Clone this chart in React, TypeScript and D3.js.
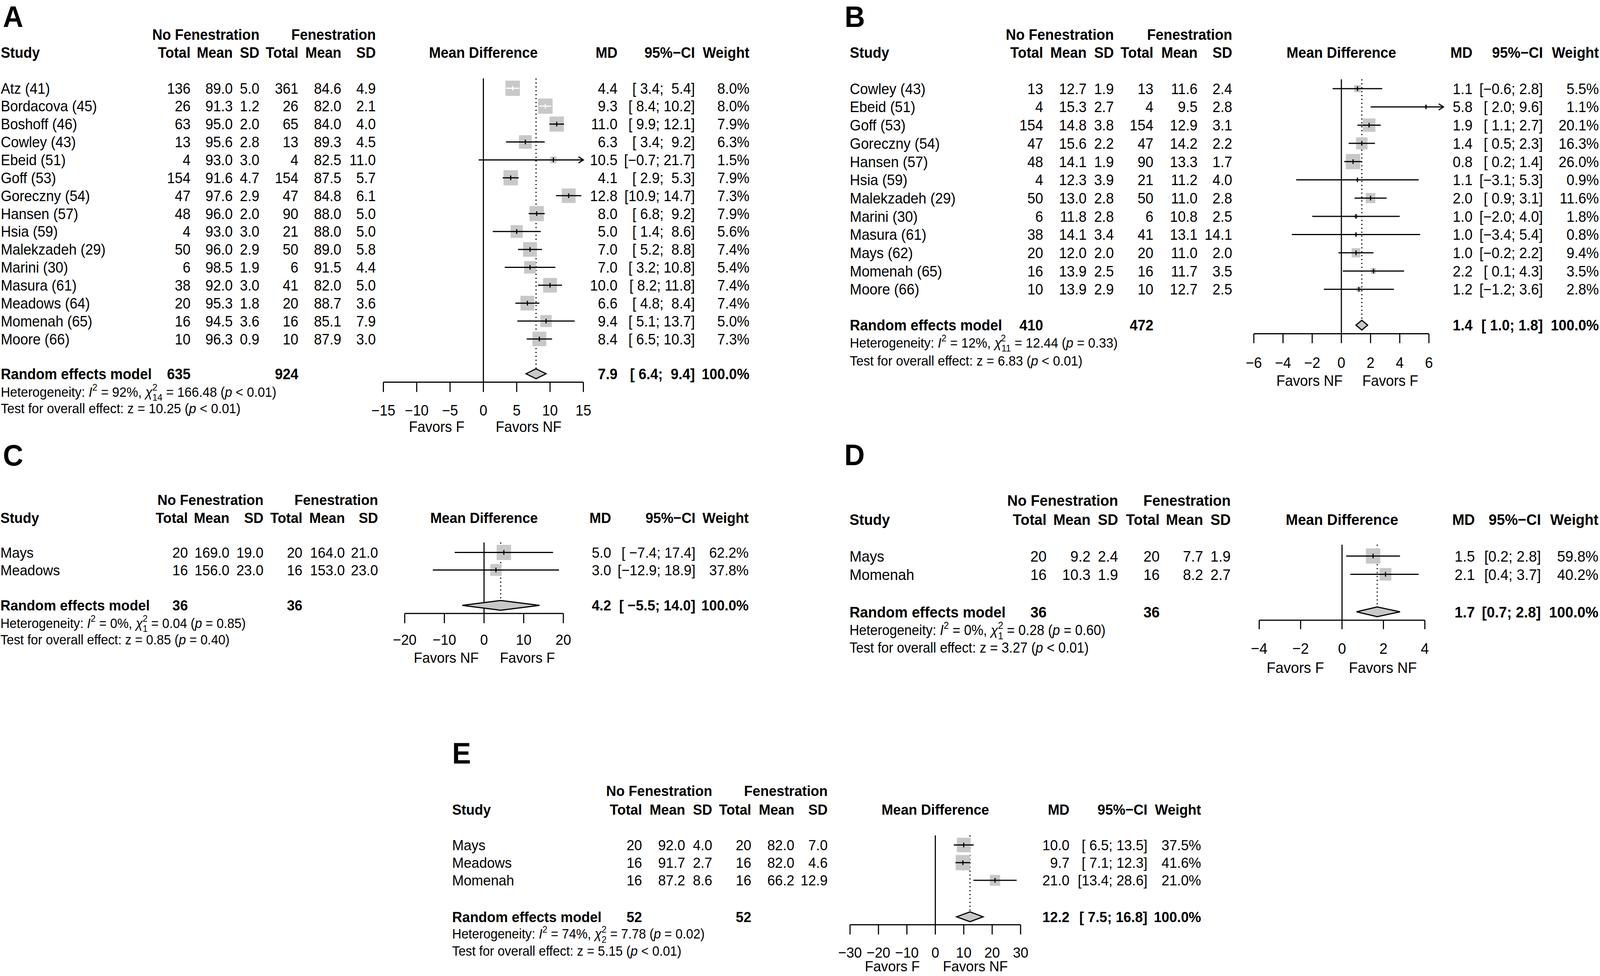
import React from "react";
import * as d3 from "d3";

const FONT = '"Liberation Sans", Arial, Helvetica, sans-serif';
const BOX_FILL = "#c8c8c8";
const MAX_BOX = 39;

// ---------- Panel A ----------
const aStudies = ["Atz (41)", "Bordacova (45)", "Boshoff (46)", "Cowley (43)", "Ebeid (51)", "Goff (53)", "Goreczny (54)", "Hansen (57)", "Hsia (59)", "Malekzadeh (29)", "Marini (30)", "Masura (61)", "Meadows (64)", "Momenah (65)", "Moore (66)"];
const aNoFen = [[136, 89.0, 5.0], [26, 91.3, 1.2], [63, 95.0, 2.0], [13, 95.6, 2.8], [4, 93.0, 3.0], [154, 91.6, 4.7], [47, 97.6, 2.9], [48, 96.0, 2.0], [4, 93.0, 3.0], [50, 96.0, 2.9], [6, 98.5, 1.9], [38, 92.0, 3.0], [20, 95.3, 1.8], [16, 94.5, 3.6], [10, 96.3, 0.9]];
const aFen = [[361, 84.6, 4.9], [26, 82.0, 2.1], [65, 84.0, 4.0], [13, 89.3, 4.5], [4, 82.5, 11.0], [154, 87.5, 5.7], [47, 84.8, 6.1], [90, 88.0, 5.0], [21, 88.0, 5.0], [50, 89.0, 5.8], [6, 91.5, 4.4], [41, 82.0, 5.0], [20, 88.7, 3.6], [16, 85.1, 7.9], [10, 87.9, 3.0]];
const aMD = [4.4, 9.3, 11.0, 6.3, 10.5, 4.1, 12.8, 8.0, 5.0, 7.0, 7.0, 10.0, 6.6, 9.4, 8.4];
const aLower = [3.4, 8.4, 9.9, 3.4, -0.7, 2.9, 10.9, 6.8, 1.4, 5.2, 3.2, 8.2, 4.8, 5.1, 6.5];
const aUpper = [5.4, 10.2, 12.1, 9.2, 21.7, 5.3, 14.7, 9.2, 8.6, 8.8, 10.8, 11.8, 8.4, 13.7, 10.3];
const aWeight = [8.0, 8.0, 7.9, 6.3, 1.5, 7.9, 7.3, 7.9, 5.6, 7.4, 5.4, 7.4, 7.4, 5.0, 7.3];
const aTotals = [635, 924];
const aPooled = [7.9, 6.4, 9.4];
const aHet = ["92%", "14", "166.48", "< 0.01"];
const aTest = ["10.25", "< 0.01"];
const aTicks = [-15, -10, -5, 0, 5, 10, 15];
const aFavors = ["Favors F", "Favors NF"];

// ---------- Panel B ----------
const bStudies = ["Cowley (43)", "Ebeid (51)", "Goff (53)", "Goreczny (54)", "Hansen (57)", "Hsia (59)", "Malekzadeh (29)", "Marini (30)", "Masura (61)", "Mays (62)", "Momenah (65)", "Moore (66)"];
const bNoFen = [[13, 12.7, 1.9], [4, 15.3, 2.7], [154, 14.8, 3.8], [47, 15.6, 2.2], [48, 14.1, 1.9], [4, 12.3, 3.9], [50, 13.0, 2.8], [6, 11.8, 2.8], [38, 14.1, 3.4], [20, 12.0, 2.0], [16, 13.9, 2.5], [10, 13.9, 2.9]];
const bFen = [[13, 11.6, 2.4], [4, 9.5, 2.8], [154, 12.9, 3.1], [47, 14.2, 2.2], [90, 13.3, 1.7], [21, 11.2, 4.0], [50, 11.0, 2.8], [6, 10.8, 2.5], [41, 13.1, 14.1], [20, 11.0, 2.0], [16, 11.7, 3.5], [10, 12.7, 2.5]];
const bMD = [1.1, 5.8, 1.9, 1.4, 0.8, 1.1, 2.0, 1.0, 1.0, 1.0, 2.2, 1.2];
const bLower = [-0.6, 2.0, 1.1, 0.5, 0.2, -3.1, 0.9, -2.0, -3.4, -0.2, 0.1, -1.2];
const bUpper = [2.8, 9.6, 2.7, 2.3, 1.4, 5.3, 3.1, 4.0, 5.4, 2.2, 4.3, 3.6];
const bWeight = [5.5, 1.1, 20.1, 16.3, 26.0, 0.9, 11.6, 1.8, 0.8, 9.4, 3.5, 2.8];
const bTotals = [410, 472];
const bPooled = [1.4, 1.0, 1.8];
const bHet = ["12%", "11", "12.44", "= 0.33"];
const bTest = ["6.83", "< 0.01"];
const bTicks = [-6, -4, -2, 0, 2, 4, 6];
const bFavors = ["Favors NF", "Favors F"];

// ---------- Panel C ----------
const cStudies = ["Mays", "Meadows"];
const cNoFen = [[20, 169.0, 19.0], [16, 156.0, 23.0]];
const cFen = [[20, 164.0, 21.0], [16, 153.0, 23.0]];
const cMD = [5.0, 3.0];
const cLower = [-7.4, -12.9];
const cUpper = [17.4, 18.9];
const cWeight = [62.2, 37.8];
const cTotals = [36, 36];
const cPooled = [4.2, -5.5, 14.0];
const cHet = ["0%", "1", "0.04", "= 0.85"];
const cTest = ["0.85", "= 0.40"];
const cTicks = [-20, -10, 0, 10, 20];
const cFavors = ["Favors NF", "Favors F"];

// ---------- Panel D ----------
const dStudies = ["Mays", "Momenah"];
const dNoFen = [[20, 9.2, 2.4], [16, 10.3, 1.9]];
const dFen = [[20, 7.7, 1.9], [16, 8.2, 2.7]];
const dMD = [1.5, 2.1];
const dLower = [0.2, 0.4];
const dUpper = [2.8, 3.7];
const dWeight = [59.8, 40.2];
const dTotals = [36, 36];
const dPooled = [1.7, 0.7, 2.8];
const dHet = ["0%", "1", "0.28", "= 0.60"];
const dTest = ["3.27", "< 0.01"];
const dTicks = [-4, -2, 0, 2, 4];
const dFavors = ["Favors F", "Favors NF"];

// ---------- Panel E ----------
const eStudies = ["Mays", "Meadows", "Momenah"];
const eNoFen = [[20, 92.0, 4.0], [16, 91.7, 2.7], [16, 87.2, 8.6]];
const eFen = [[20, 82.0, 7.0], [16, 82.0, 4.6], [16, 66.2, 12.9]];
const eMD = [10.0, 9.7, 21.0];
const eLower = [6.5, 7.1, 13.4];
const eUpper = [13.5, 12.3, 28.6];
const eWeight = [37.5, 41.6, 21.0];
const eTotals = [52, 52];
const ePooled = [12.2, 7.5, 16.8];
const eHet = ["74%", "2", "7.78", "= 0.02"];
const eTest = ["5.15", "< 0.01"];
const eTicks = [-30, -20, -10, 0, 10, 20, 30];
const eFavors = ["Favors F", "Favors NF"];

interface PanelData {
  studies: string[]; noFen: number[][]; fen: number[][];
  md: number[]; lower: number[]; upper: number[]; weight: number[];
  totals: number[]; pooled: number[]; het: string[]; test: string[];
  ticks: number[]; favors: string[];
}

interface Layout {
  letter: string; letterX: number; letterY: number;
  fs: number; fsSmall: number;
  studyX: number; cols: number[];
  groupY: number; headY: number;
  rowY0: number; rowDY: number;
  sumY: number; hetY: number; testY: number;
  range: [number, number]; clip: [number, number];
  plotTop: number; axisY: number; tickLen: number; tickLabelY: number;
  favorsY: number; favorsDX: [number, number];
  mdX: number; ciX: number; wX: number;
}

const W = 4317;
const H = 2499;

const minus = (s: string) => s.replace("-", "\u2212");
const f1 = (v: number) => minus(v.toFixed(1));

// baseline from a visual (cap) centre
const bl = (cy: number, fs: number) => cy + 0.358 * fs;

function HetLine({ x, y, fs, het }: { x: number; y: number; fs: number; het: string[] }) {
  const sfs = fs * 0.7;
  const dfW = het[1].length * 0.556 * sfs;
  const supW = 0.556 * sfs;
  return (
    <text x={x} y={y} fontSize={fs} style={{ whiteSpace: "pre" }} xmlSpace="preserve">
      <tspan>{"Heterogeneity: "}</tspan>
      <tspan fontStyle="italic">I</tspan>
      <tspan fontSize={sfs} dy={-fs * 0.45}>2</tspan>
      <tspan dy={fs * 0.45}>{` = ${het[0]}, `}</tspan>
      <tspan fontStyle="italic">{"\u03C7"}</tspan>
      <tspan fontSize={sfs} dy={fs * 0.3}>{het[1]}</tspan>
      <tspan fontSize={sfs} dx={-dfW} dy={-fs * 0.75}>2</tspan>
      <tspan dx={dfW - supW} dy={fs * 0.45}>{` = ${het[2]} (`}</tspan>
      <tspan fontStyle="italic">p</tspan>
      <tspan>{` ${het[3]})`}</tspan>
    </text>
  );
}

function ForestPanel({ d, L }: { d: PanelData; L: Layout }) {
  const x = d3.scaleLinear().domain(d3.extent(d.ticks) as [number, number]).range(L.range);
  const y = (i: number) => L.rowY0 + i * L.rowDY;
  const maxW = d3.max(d.weight) as number;
  const fs = L.fs;

  const loStr = [...d.lower, d.pooled[1]].map(f1);
  const hiStr = [...d.upper, d.pooled[2]].map(f1);
  const loW = d3.max(loStr, (s) => s.length) as number;
  const hiW = d3.max(hiStr, (s) => s.length) as number;
  const ci = (i: number) => `[${loStr[i].padStart(loW)}; ${hiStr[i].padStart(hiW)}]`;

  const [cMin, cMax] = L.clip;
  const cx = x(0);
  const mid = (L.range[0] + L.range[1]) / 2;
  const hdr = ["Total", "Mean", "SD", "Total", "Mean", "SD"];
  const dh = 12.5;
  const pooledX = x(d.pooled[0]);

  return (
    <g fontFamily={FONT} fill="#000">
      <text x={L.letterX} y={L.letterY} fontSize={76} fontWeight="bold">{L.letter}</text>

      {/* header */}
      <g fontWeight="bold" fontSize={fs}>
        <text x={L.cols[2]} y={bl(L.groupY, fs)} textAnchor="end">No Fenestration</text>
        <text x={L.cols[5]} y={bl(L.groupY, fs)} textAnchor="end">Fenestration</text>
        <text x={L.studyX} y={bl(L.headY, fs)}>Study</text>
        {hdr.map((h, k) => (
          <text key={k} x={L.cols[k]} y={bl(L.headY, fs)} textAnchor="end">{h}</text>
        ))}
        <text x={mid} y={bl(L.headY, fs)} textAnchor="middle">Mean Difference</text>
        <text x={L.mdX} y={bl(L.headY, fs)} textAnchor="end">MD</text>
        <text x={L.ciX} y={bl(L.headY, fs)} textAnchor="end">{"95%\u2212CI"}</text>
        <text x={L.wX} y={bl(L.headY, fs)} textAnchor="end">Weight</text>
      </g>

      {/* study rows */}
      <g fontSize={fs} style={{ whiteSpace: "pre" }}>
        {d.studies.map((s, i) => {
          const vals = [
            String(d.noFen[i][0]), d.noFen[i][1].toFixed(1), d.noFen[i][2].toFixed(1),
            String(d.fen[i][0]), d.fen[i][1].toFixed(1), d.fen[i][2].toFixed(1),
          ];
          return (
            <g key={s}>
              <text x={L.studyX} y={bl(y(i), fs)}>{s}</text>
              {vals.map((v, k) => (
                <text key={k} x={L.cols[k]} y={bl(y(i), fs)} textAnchor="end">{v}</text>
              ))}
              <text x={L.mdX} y={bl(y(i), fs)} textAnchor="end">{f1(d.md[i])}</text>
              <text x={L.ciX} y={bl(y(i), fs)} textAnchor="end" xmlSpace="preserve">{ci(i)}</text>
              <text x={L.wX} y={bl(y(i), fs)} textAnchor="end">{`${d.weight[i].toFixed(1)}%`}</text>
            </g>
          );
        })}
      </g>

      {/* pooled row */}
      <g fontSize={fs} fontWeight="bold" style={{ whiteSpace: "pre" }}>
        <text x={L.studyX} y={bl(L.sumY, fs)}>Random effects model</text>
        <text x={L.cols[0]} y={bl(L.sumY, fs)} textAnchor="end">{d.totals[0]}</text>
        <text x={L.cols[3]} y={bl(L.sumY, fs)} textAnchor="end">{d.totals[1]}</text>
        <text x={L.mdX} y={bl(L.sumY, fs)} textAnchor="end">{f1(d.pooled[0])}</text>
        <text x={L.ciX} y={bl(L.sumY, fs)} textAnchor="end" xmlSpace="preserve">{ci(d.studies.length)}</text>
        <text x={L.wX} y={bl(L.sumY, fs)} textAnchor="end">100.0%</text>
      </g>
      <HetLine x={L.studyX} y={bl(L.hetY, L.fsSmall)} fs={L.fsSmall} het={d.het} />
      <text x={L.studyX} y={bl(L.testY, L.fsSmall)} fontSize={L.fsSmall} style={{ whiteSpace: "pre" }} xmlSpace="preserve">
        <tspan>{`Test for overall effect: z = ${d.test[0]} (`}</tspan>
        <tspan fontStyle="italic">p</tspan>
        <tspan>{` ${d.test[1]})`}</tspan>
      </text>

      {/* reference lines */}
      <line x1={cx} x2={cx} y1={L.plotTop} y2={L.axisY} stroke="#000" strokeWidth={3} />
      <line x1={pooledX} x2={pooledX} y1={L.plotTop} y2={L.sumY} stroke="#000" strokeWidth={3} strokeDasharray="3,7" />

      {/* squares + CIs */}
      {d.studies.map((s, i) => {
        const size = MAX_BOX * Math.sqrt(d.weight[i] / maxW);
        const lo = Math.max(d.lower[i], cMin);
        const hi = Math.min(d.upper[i], cMax);
        const x0 = x(lo), x1 = x(hi), xm = x(d.md[i]);
        const inside = x(d.upper[i]) - x(d.lower[i]) < size;
        const col = inside ? "#fff" : "#000";
        const yy = y(i);
        return (
          <g key={s}>
            <rect x={xm - size / 2} y={yy - size / 2} width={size} height={size} fill={BOX_FILL} />
            <line x1={x0} x2={x1} y1={yy} y2={yy} stroke={col} strokeWidth={3} />
            <line x1={xm} x2={xm} y1={yy - 6} y2={yy + 6} stroke={col} strokeWidth={3} />
            {d.upper[i] > cMax && (
              <path d={`M${x1 - 13},${yy - 8} L${x1},${yy} L${x1 - 13},${yy + 8}`} fill="none" stroke="#000" strokeWidth={3} />
            )}
            {d.lower[i] < cMin && (
              <path d={`M${x0 + 13},${yy - 8} L${x0},${yy} L${x0 + 13},${yy + 8}`} fill="none" stroke="#000" strokeWidth={3} />
            )}
          </g>
        );
      })}

      {/* pooled diamond */}
      <path
        d={`M${x(d.pooled[1])},${L.sumY} L${pooledX},${L.sumY - dh} L${x(d.pooled[2])},${L.sumY} L${pooledX},${L.sumY + dh} Z`}
        fill={BOX_FILL}
        stroke="#000"
        strokeWidth={3}
      />

      {/* axis */}
      <line x1={L.range[0]} x2={L.range[1]} y1={L.axisY} y2={L.axisY} stroke="#000" strokeWidth={3} />
      {d.ticks.map((t) => (
        <g key={t}>
          <line x1={x(t)} x2={x(t)} y1={L.axisY} y2={L.axisY + L.tickLen} stroke="#000" strokeWidth={3} />
          <text x={x(t)} y={bl(L.tickLabelY, fs)} fontSize={fs} textAnchor="middle">{minus(String(t))}</text>
        </g>
      ))}
      <text x={cx + L.favorsDX[0]} y={bl(L.favorsY, fs)} fontSize={fs} textAnchor="middle">{d.favors[0]}</text>
      <text x={cx + L.favorsDX[1]} y={bl(L.favorsY, fs)} fontSize={fs} textAnchor="middle">{d.favors[1]}</text>
    </g>
  );
}

const dataA: PanelData = { studies: aStudies, noFen: aNoFen, fen: aFen, md: aMD, lower: aLower, upper: aUpper, weight: aWeight, totals: aTotals, pooled: aPooled, het: aHet, test: aTest, ticks: aTicks, favors: aFavors };
const dataB: PanelData = { studies: bStudies, noFen: bNoFen, fen: bFen, md: bMD, lower: bLower, upper: bUpper, weight: bWeight, totals: bTotals, pooled: bPooled, het: bHet, test: bTest, ticks: bTicks, favors: bFavors };
const dataC: PanelData = { studies: cStudies, noFen: cNoFen, fen: cFen, md: cMD, lower: cLower, upper: cUpper, weight: cWeight, totals: cTotals, pooled: cPooled, het: cHet, test: cTest, ticks: cTicks, favors: cFavors };
const dataD: PanelData = { studies: dStudies, noFen: dNoFen, fen: dFen, md: dMD, lower: dLower, upper: dUpper, weight: dWeight, totals: dTotals, pooled: dPooled, het: dHet, test: dTest, ticks: dTicks, favors: dFavors };
const dataE: PanelData = { studies: eStudies, noFen: eNoFen, fen: eFen, md: eMD, lower: eLower, upper: eUpper, weight: eWeight, totals: eTotals, pooled: ePooled, het: eHet, test: eTest, ticks: eTicks, favors: eFavors };

const layoutA: Layout = {
  letter: "A", letterX: 8, letterY: 69, fs: 38, fsSmall: 35,
  studyX: 2, cols: [514, 628, 700, 805, 921, 1014],
  groupY: 88, headY: 134, rowY0: 226, rowDY: 45.85,
  sumY: 957, hetY: 1003, testY: 1045,
  range: [1034.4, 1574], clip: [-15, 15],
  plotTop: 201, axisY: 978.6, tickLen: 25, tickLabelY: 1050,
  favorsY: 1092, favorsDX: [-126, 122],
  mdX: 1666, ciX: 1875, wX: 2022,
};
const layoutB: Layout = {
  letter: "B", letterX: 2279, letterY: 69, fs: 38.3, fsSmall: 35,
  studyX: 2293, cols: [2814.5, 2931.7, 3005.3, 3112, 3231.2, 3324.7],
  groupY: 88, headY: 134.5, rowY0: 227, rowDY: 46.7,
  sumY: 832.5, hetY: 877, testY: 923,
  range: [3383, 3855.4], clip: [-7, 7],
  plotTop: 203, axisY: 854.6, tickLen: 24, tickLabelY: 928,
  favorsY: 974, favorsDX: [-86, 132],
  mdX: 3973, ciX: 4163, wX: 4314,
};
const layoutC: Layout = {
  letter: "C", letterX: 8, letterY: 1192, fs: 37.6, fsSmall: 34.5,
  studyX: 1, cols: [507, 619, 711, 816, 930.6, 1020],
  groupY: 1280, headY: 1326, rowY0: 1414.5, rowDY: 45,
  sumY: 1550, hetY: 1595.5, testY: 1637.6,
  range: [1092, 1520], clip: [-20, 20],
  plotTop: 1389, axisY: 1570.7, tickLen: 25, tickLabelY: 1638,
  favorsY: 1683.5, favorsDX: [-102, 117],
  mdX: 1649, ciX: 1876.4, wX: 2020,
};
const layoutD: Layout = {
  letter: "D", letterX: 2278, letterY: 1191.5, fs: 39.3, fsSmall: 36,
  studyX: 2292, cols: [2823.7, 2942.5, 3016.8, 3128.9, 3246.3, 3320.6],
  groupY: 1281, headY: 1330, rowY0: 1423.7, rowDY: 46.8,
  sumY: 1566.5, hetY: 1613.4, testY: 1658,
  range: [3397.5, 3844.4], clip: [-4, 4],
  plotTop: 1394.6, axisY: 1588, tickLen: 23, tickLabelY: 1660,
  favorsY: 1709, favorsDX: [-126, 110],
  mdX: 3979.4, ciX: 4157.6, wX: 4312.8,
};
const layoutE: Layout = {
  letter: "E", letterX: 1220, letterY: 1955, fs: 37.6, fsSmall: 34.5,
  studyX: 1220, cols: [1732.3, 1848.7, 1921.7, 2027, 2143.4, 2233.2],
  groupY: 2025, headY: 2072.5, rowY0: 2163.6, rowDY: 45.2,
  sumY: 2347.4, hetY: 2391, testY: 2435,
  range: [2293.5, 2753.7], clip: [-30, 30],
  plotTop: 2139, axisY: 2367.7, tickLen: 25, tickLabelY: 2438.4,
  favorsY: 2474, favorsDX: [-116, 108],
  mdX: 2885.6, ciX: 3096, wX: 3240.6,
};

export default function App() {
  // fill the viewport exactly, whatever its CSS size turns out to be
  return (
    <svg
      viewBox={`0 0 ${W} ${H}`}
      preserveAspectRatio="none"
      style={{ position: "fixed", left: 0, top: 0, width: "100vw", height: "100vh", background: "#fff", display: "block" }}
    >
      <rect width={W} height={H} fill="#fff" />
      <ForestPanel d={dataA} L={layoutA} />
      <ForestPanel d={dataB} L={layoutB} />
      <ForestPanel d={dataC} L={layoutC} />
      <ForestPanel d={dataD} L={layoutD} />
      <ForestPanel d={dataE} L={layoutE} />
    </svg>
  );
}
